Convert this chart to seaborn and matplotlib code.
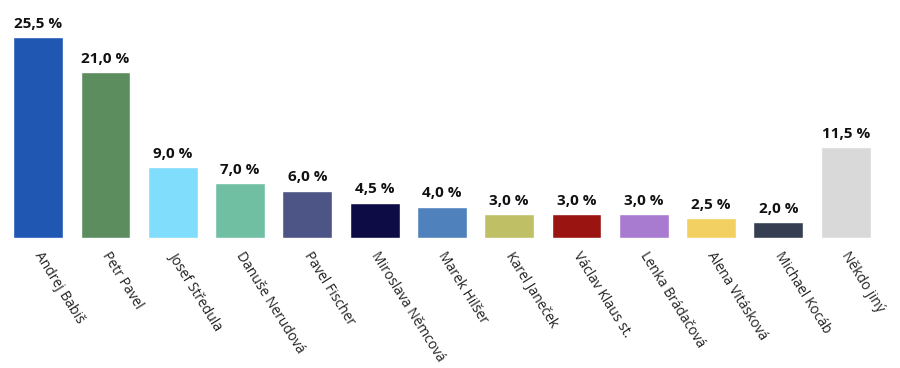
import seaborn as sns
import matplotlib.pyplot as plt
import matplotlib.transforms as mtransforms
import pandas as pd

candidates = ['Andrej Babiš', 'Petr Pavel', 'Josef Středula', 'Danuše Nerudová',
              'Pavel Fischer', 'Miroslava Němcová', 'Marek Hilšer', 'Karel Janeček',
              'Václav Klaus st.', 'Lenka Brádačová', 'Alena Vitásková', 'Michael Kocáb',
              'Někdo jiný']
shares = [25.5, 21.0, 9.0, 7.0, 6.0, 4.5, 4.0, 3.0, 3.0, 3.0, 2.5, 2.0, 11.5]
colors = ['#1F57B3', '#5C8D5F', '#80DDFB', '#70BFA3', '#4D5486', '#0D0C45', '#4F82BD',
          '#BFBF66', '#9A1511', '#A87BD0', '#F2D062', '#363F52', '#D9D9D9']

df = pd.DataFrame({'candidate': candidates, 'share': shares})

sns.set_style('white')
plt.rcParams['font.family'] = ['Open Sans', 'DejaVu Sans']

fig = plt.figure(figsize=(9, 3.68), dpi=100)
ax = fig.add_axes([0.005, 0.353, 0.972, 0.6])
sns.barplot(data=df, x='candidate', y='share', hue='candidate', palette=colors,
            legend=False, width=0.74, ax=ax, saturation=1)

# value labels above the bars, Czech decimal comma
for i, v in enumerate(shares):
    ax.text(i, v + 0.8, f'{v:.1f} %'.replace('.', ','), ha='center', va='bottom',
            fontsize=11, fontweight='bold', color='#111111')

ax.set_ylim(0, 28)
ax.set_xlim(-0.5, len(candidates) - 0.5)
ax.set_yticks([])
ax.set_xlabel('')
ax.set_ylabel('')
ax.tick_params(axis='x', length=0, pad=8)
ax.set_xticks(range(len(candidates)))
ax.set_xticklabels(candidates, rotation=-58, ha='left', va='top',
                   rotation_mode='anchor', fontsize=10, color='#222222')
# nudge the slanted names a little to the right, like the original
shift = mtransforms.ScaledTranslation(4 / 72, 0, fig.dpi_scale_trans)
for lbl in ax.get_xticklabels():
    lbl.set_transform(lbl.get_transform() + shift)
for s in ax.spines.values():
    s.set_visible(False)

fig.savefig('out.png', dpi=100)
